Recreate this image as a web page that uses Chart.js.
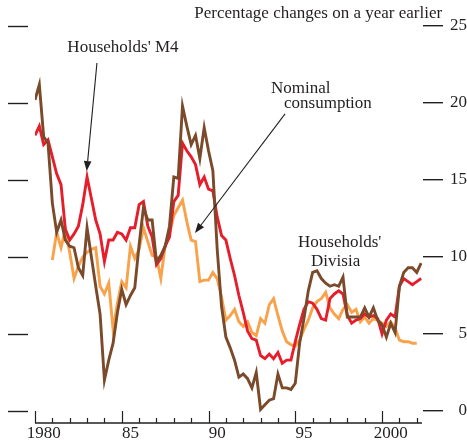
<!DOCTYPE html>
<html lang="en">
<head>
<meta charset="utf-8">
<title>Households' M4, Divisia and nominal consumption</title>
<script src="https://cdn.jsdelivr.net/npm/chart.js@4"></script>
<style>
  html, body { margin: 0; padding: 0; background: #fff; }
  #wrap { position: relative; width: 467px; height: 444px; }
</style>
</head>
<body>
<div id="wrap"><canvas id="chart" width="467" height="444"></canvas></div>
<script>
// ---- data: quarterly, 1980 Q1 .. 2002 Q2, % change on a year earlier ----
const START_YEAR = 1980;

const householdsM4 = [
  17.9, 18.5, 17.3, 17.6, 16.5, 15.4, 14.7, 11.8, 11.1, 11.5,
  12.0, 13.4, 15.2, 13.8, 12.4, 11.5, 9.7, 11.1, 11.1, 11.6,
  11.5, 11.1, 11.9, 11.9, 13.4, 13.6, 12.0, 11.3, 9.5, 9.9,
  10.7, 11.3, 13.6, 14.0, 17.4, 16.9, 16.5, 16.0, 14.7, 15.2,
  14.4, 14.3, 12.6, 11.4, 11.1, 9.9, 8.8, 7.5, 6.4, 5.2,
  4.7, 4.6, 3.6, 3.4, 3.7, 3.4, 3.8, 3.1, 3.3, 3.3,
  4.5, 5.6, 6.6, 7.1, 7.0, 6.6, 6.0, 5.9, 7.3, 7.6,
  7.8, 7.6, 6.2, 5.7, 5.9, 6.0, 6.3, 6.1, 6.2, 6.0,
  5.0, 5.9, 6.3, 6.1, 8.1, 8.6, 8.4, 8.2, 8.4, 8.6
];

const householdsDivisia = [
  20.2, 21.2, 17.8, 17.4, 13.5, 11.6, 12.4, 11.1, 10.7, 10.6,
  9.3, 8.8, 11.9, 10.0, 8.1, 6.3, 2.0, 3.3, 4.4, 6.4,
  7.9, 6.9, 7.5, 8.0, 10.8, 13.2, 12.4, 12.4, 9.7, 10.1,
  10.7, 12.0, 15.2, 15.1, 19.8, 18.5, 17.3, 17.9, 16.4, 18.4,
  16.9, 15.6, 10.5, 6.8, 4.8, 4.1, 3.3, 2.2, 2.4, 2.1,
  1.5, 2.5, 0.1, 0.4, 0.7, 0.8, 2.4, 1.5, 1.5, 1.4,
  1.8, 4.4, 6.0, 7.8, 9.0, 9.1, 8.6, 8.3, 8.1, 8.2,
  8.1, 8.7, 6.1, 6.1, 6.1, 6.1, 6.7, 6.1, 6.7, 5.9,
  5.6, 4.8, 5.7, 5.1, 8.1, 9.0, 9.3, 9.3, 9.0, 9.6
];

const nominalConsumption = [
  null, null, null, null, 9.8, 11.6, 10.6, 11.8, 10.3, 8.6,
  9.4, 10.0, 10.3, 10.5, 10.6, 8.1, 7.6, 8.3, 5.3, 7.0,
  8.4, 8.0, 10.7, 9.9, 10.5, 11.9, 11.0, 10.1, 10.0, 8.6,
  10.7, 11.5, 12.7, 13.2, 13.7, 12.3, 11.1, 11.0, 8.4, 8.5,
  8.5, 9.0, 8.6, 7.4, 5.9, 6.2, 6.6, 5.8, 5.5, 5.8,
  5.1, 4.9, 6.0, 5.7, 6.9, 7.3, 6.2, 5.2, 4.5, 4.3,
  4.2, 4.6, 5.3, 5.9, 6.7, 7.1, 7.3, 7.7, 6.7, 6.3,
  6.0, 6.6, 6.9, 6.4, 6.6, 5.8, 6.1, 5.7, 6.0, 5.9,
  5.7, 5.5, 5.8, 5.4, 4.6, 4.5, 4.5, 4.4, 4.4, null
];

const yTicks = [0, 5, 10, 15, 20, 25];
const xYears = [1980, 1981, 1982, 1983, 1984, 1985, 1986, 1987, 1988, 1989, 1990, 1991,
  1992, 1993, 1994, 1995, 1996, 1997, 1998, 1999, 2000, 2001, 2002];
const xMajorYears = [1980, 1985, 1990, 1995, 2000];
const xLabels = ['1980', '85', '90', '95', '2000'];
const unitsLabel = 'Percentage changes on a year earlier';
// ------------------------------------------------------------------------

const RED = '#e61e2b';
const ORANGE = '#f8a24b';
const BROWN = '#7a4a2b';
const INK = '#231f20';
const FONT = '"Liberation Serif", "Times New Roman", serif';

// text labels and arrows, placed in data coordinates
const notes = [
  { text: "Households' M4", x: 1985.07, y: 23.57, align: 'center' },
  { text: 'Nominal', x: 1993.6, y: 20.97, align: 'left' },
  { text: 'consumption', x: 1994.35, y: 19.94, align: 'left' },
  { text: "Households'", x: 1995.16, y: 10.91, align: 'left' },
  { text: 'Divisia', x: 1995.91, y: 9.68, align: 'left' },
];
const arrows = [
  { from: [1983.57, 22.6], to: [1982.98, 15.58] },
  { from: [1994.41, 19.29], to: [1989.22, 11.56] },
];

const toPoints = (arr) => arr.map((v, i) => ({ x: START_YEAR + i / 4, y: v }));

// axis furniture the library does not draw the way the original does
const decor = {
  id: 'decor',
  afterDraw(chart) {
    const { ctx, chartArea, scales: { x, y } } = chart;
    ctx.save();
    ctx.strokeStyle = INK;
    ctx.fillStyle = INK;

    // left-hand tick dashes
    ctx.lineWidth = 1.4;
    for (const v of yTicks) {
      const py = Math.round(y.getPixelForValue(v)) + 0.5;
      ctx.beginPath();
      ctx.moveTo(8, py);
      ctx.lineTo(28, py);
      ctx.stroke();
    }

    // bottom axis with upward ticks
    const base = chartArea.bottom;
    ctx.lineWidth = 1.4;
    ctx.beginPath();
    ctx.moveTo(x.getPixelForValue(1980), base);
    ctx.lineTo(x.getPixelForValue(2002.3), base);
    ctx.stroke();
    ctx.lineWidth = 1.2;
    for (const yr of xYears) {
      const px = Math.round(x.getPixelForValue(yr)) + 0.5;
      const len = xMajorYears.includes(yr) ? 12 : 5;
      ctx.beginPath();
      ctx.moveTo(px, base);
      ctx.lineTo(px, base - len);
      ctx.stroke();
    }
    ctx.font = `17px ${FONT}`;
    ctx.textAlign = 'center';
    ctx.textBaseline = 'middle';
    xMajorYears.forEach((yr, i) => {
      ctx.fillText(xLabels[i], x.getPixelForValue(yr + 0.5), base + 11);
    });

    // units label
    ctx.textAlign = 'right';
    ctx.fillText(unitsLabel, x.getPixelForValue(2003.46), y.getPixelForValue(25.78));

    // annotations
    for (const n of notes) {
      ctx.textAlign = n.align;
      ctx.fillText(n.text, x.getPixelForValue(n.x), y.getPixelForValue(n.y));
    }
    ctx.lineWidth = 1.1;
    for (const a of arrows) {
      const x0 = x.getPixelForValue(a.from[0]), y0 = y.getPixelForValue(a.from[1]);
      const x1 = x.getPixelForValue(a.to[0]), y1 = y.getPixelForValue(a.to[1]);
      const ang = Math.atan2(y1 - y0, x1 - x0);
      const hl = 10, hw = 3.8;
      const bx = x1 - hl * Math.cos(ang), by = y1 - hl * Math.sin(ang);
      ctx.beginPath();
      ctx.moveTo(x0, y0);
      ctx.lineTo(bx, by);
      ctx.stroke();
      ctx.beginPath();
      ctx.moveTo(x1, y1);
      ctx.lineTo(bx + hw * Math.sin(ang), by - hw * Math.cos(ang));
      ctx.lineTo(bx - hw * Math.sin(ang), by + hw * Math.cos(ang));
      ctx.closePath();
      ctx.fill();
    }
    ctx.restore();
  }
};

const line = (label, arr, color) => ({
  label,
  data: toPoints(arr),
  borderColor: color,
  backgroundColor: color,
  borderWidth: 2.9,
  pointRadius: 0,
  tension: 0,
  spanGaps: false,
  borderJoinStyle: 'miter',
});

new Chart(document.getElementById('chart'), {
  type: 'line',
  data: {
    datasets: [
      line("Households' Divisia", householdsDivisia, BROWN),
      line("Households' M4", householdsM4, RED),
      line('Nominal consumption', nominalConsumption, ORANGE),
    ],
  },
  options: {
    responsive: false,
    animation: false,
    layout: { padding: { left: 35, top: 26, right: 0, bottom: 21 } },
    plugins: { legend: { display: false }, tooltip: { enabled: false } },
    scales: {
      x: { type: 'linear', min: 1980, max: 2002.36, display: false },
      y: {
        position: 'right',
        min: -0.78,
        max: 25,
        afterBuildTicks: (s) => { s.ticks = yTicks.map((v) => ({ value: v })); },
        afterFit: (s) => { s.width = 44; },
        grid: { drawOnChartArea: false, drawTicks: true, tickLength: 20, color: INK, lineWidth: 1.4 },
        border: { display: false },
        ticks: { padding: 5, color: INK, crossAlign: 'far', font: { family: FONT, size: 17 } },
      },
    },
  },
  plugins: [decor],
});
</script>
</body>
</html>
